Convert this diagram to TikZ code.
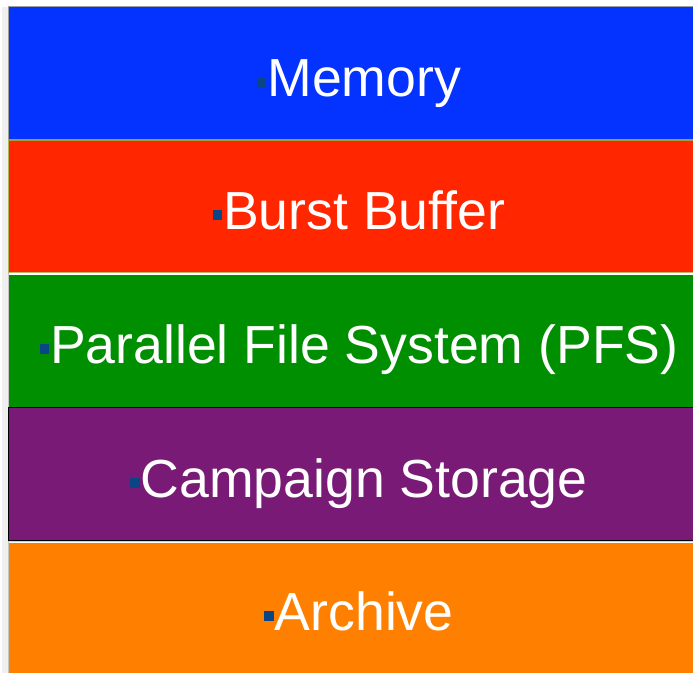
\documentclass[tikz,border=0pt]{standalone}
\usepackage{fontspec}
\setmainfont{Liberation Sans}
\definecolor{memblue}{HTML}{0433FF}
\definecolor{bbred}{HTML}{FF2600}
\definecolor{pfsgreen}{HTML}{008F00}
\definecolor{campurple}{HTML}{791A77}
\definecolor{arcorange}{HTML}{FF8000}
\definecolor{bulletblue}{HTML}{0A4683}
\definecolor{olivebdr}{HTML}{A89A30}
\newcommand{\bsq}{\textcolor{bulletblue}{\rule[9.5bp]{9.5bp}{9.5bp}}\hspace{1bp}}
\tikzset{
  layer/.style={line width=1bp},
  lbl/.style={anchor=base, text=white, inner sep=0pt, font=\fontsize{53.6bp}{60bp}\selectfont}
}
\begin{document}
\begin{tikzpicture}[x=1bp,y=-1bp]
\useasboundingbox (0,0) rectangle (693,673);
\clip (0,0) rectangle (693,673);
% left shadow
\fill[gray!12] (2,7) rectangle (9,673);
\draw[gray!45, line width=1bp] (8,7) -- (8,673);
% layers
\path[layer, fill=memblue, draw=gray!75] (8.5,6.5) rectangle (705,139.5);
\path[layer, fill=bbred, draw=none] (9,140.5) rectangle (705,272);
\draw[olivebdr, line width=1.2bp] (8.5,140) -- (705,140);
\draw[olivebdr!70!white, line width=1bp] (8.5,272.5) -- (705,272.5);
\draw[olivebdr!80!white, line width=1bp] (8.5,140) -- (8.5,272.5);
\path[fill=pfsgreen] (9,275) rectangle (705,407);
\path[layer, fill=campurple, draw=black, line width=1.3bp] (8.5,407.5) rectangle (705,540.5);
\draw[gray!35, line width=1.5bp] (8.5,541.5) -- (705,541.5);
\path[fill=arcorange] (9,542.5) rectangle (705,680);
% labels
\node[lbl] (mem) at (359,97) {\bsq Memory};
\node[lbl] (bb) at (359,229) {\bsq Burst Buffer};
\node[lbl] (pfs) at (359,363) {\bsq Parallel File System (PFS)};
\node[lbl] (cs) at (359,497) {\bsq Campaign Storage};
\node[lbl] (ar) at (359,630) {\bsq Archive};
\end{tikzpicture}
\end{document}
